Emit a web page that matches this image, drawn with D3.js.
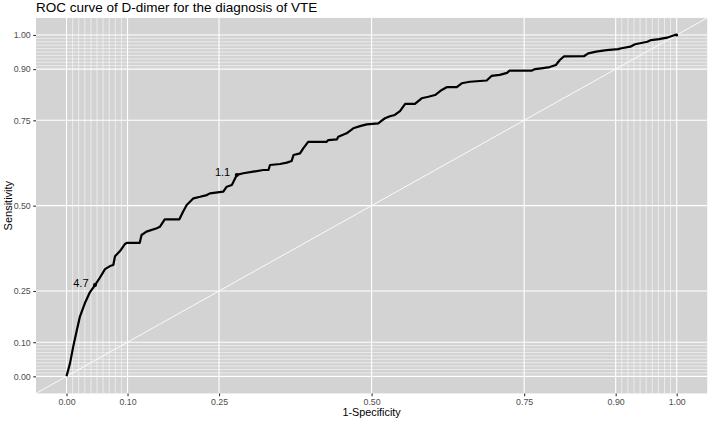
<!DOCTYPE html>
<html><head><meta charset="utf-8">
<script src="https://cdn.jsdelivr.net/npm/d3@7"></script>
<style>html,body{margin:0;padding:0;background:#fff;}svg{display:block;font-family:"Liberation Sans",Arial,sans-serif;}</style>
</head><body>
<script>
const title = "ROC curve of D-dimer for the diagnosis of VTE";
const xLabel = "1-Specificity";
const yLabel = "Sensitivity";
const majorBreaks = [0, 0.1, 0.25, 0.5, 0.75, 0.9, 1];
const tickLabels = ["0.00", "0.10", "0.25", "0.50", "0.75", "0.90", "1.00"];
const minorBreaks = [0.01,0.02,0.03,0.04,0.05,0.06,0.07,0.08,0.09,0.91,0.92,0.93,0.94,0.95,0.96,0.97,0.98,0.99];
const fpr = [0,0.0057,0.011,0.017,0.022,0.030,0.0385,0.0467,0.0549,0.0631,0.0713,0.0767,0.0795,0.0877,0.0959,0.0987,0.120,0.123,0.131,0.148,0.153,0.161,0.185,0.191,0.197,0.208,0.219,0.230,0.235,0.257,0.2625,0.271,0.279,0.2897,0.306,0.3225,0.331,0.3335,0.350,0.361,0.369,0.372,0.3827,0.388,0.396,0.4264,0.429,0.443,0.4454,0.459,0.470,0.481,0.492,0.511,0.5166,0.522,0.530,0.538,0.5465,0.555,0.571,0.582,0.593,0.604,0.615,0.623,0.6395,0.6477,0.661,0.6886,0.6965,0.710,0.722,0.726,0.762,0.768,0.778,0.792,0.802,0.8085,0.815,0.848,0.855,0.868,0.885,0.904,0.9095,0.924,0.9317,0.940,0.952,0.958,0.971,0.984,0.997,1];
const tpr = [0,0.038,0.087,0.136,0.175,0.214,0.247,0.2675,0.2895,0.314,0.323,0.326,0.352,0.367,0.3877,0.391,0.391,0.414,0.424,0.434,0.438,0.460,0.460,0.482,0.502,0.5215,0.526,0.531,0.536,0.541,0.5555,0.5605,0.590,0.5948,0.5995,0.6045,0.6045,0.619,0.622,0.626,0.631,0.6485,0.653,0.668,0.687,0.687,0.692,0.694,0.702,0.712,0.7266,0.733,0.738,0.741,0.749,0.756,0.762,0.7656,0.777,0.798,0.798,0.8145,0.819,0.824,0.839,0.847,0.847,0.8585,0.863,0.8667,0.880,0.883,0.889,0.8954,0.8954,0.900,0.9024,0.906,0.912,0.9267,0.937,0.9376,0.946,0.951,0.9555,0.9587,0.961,0.9657,0.9727,0.9757,0.980,0.985,0.9877,0.992,1.0,1];
const cutLabels = ["4.7", "1.1"];
const cutFpr = [0.0467, 0.279];
const cutTpr = [0.2675, 0.590];

const W = 708, H = 421;
const panel = {l: 36, r: 707.2, t: 17.9, b: 393.4};
const x = d3.scaleLinear().domain([-0.05, 1.05]).range([panel.l, panel.r]);
const y = d3.scaleLinear().domain([-0.05, 1.05]).range([panel.b, panel.t]);

const svg = d3.select("body").append("svg").attr("width", W).attr("height", H);
svg.append("rect").attr("x", panel.l).attr("y", panel.t)
  .attr("width", panel.r - panel.l).attr("height", panel.b - panel.t).attr("fill", "#D3D3D3");

const grid = svg.append("g");
minorBreaks.forEach(v => {
  grid.append("line").attr("x1", x(v)).attr("x2", x(v)).attr("y1", panel.t).attr("y2", panel.b)
    .attr("stroke", "#fff").attr("stroke-width", 0.55);
  grid.append("line").attr("y1", y(v)).attr("y2", y(v)).attr("x1", panel.l).attr("x2", panel.r)
    .attr("stroke", "#fff").attr("stroke-width", 0.55);
});
majorBreaks.forEach(v => {
  grid.append("line").attr("x1", x(v)).attr("x2", x(v)).attr("y1", panel.t).attr("y2", panel.b)
    .attr("stroke", "#fff").attr("stroke-width", 1.1);
  grid.append("line").attr("y1", y(v)).attr("y2", y(v)).attr("x1", panel.l).attr("x2", panel.r)
    .attr("stroke", "#fff").attr("stroke-width", 1.1);
});

// diagonal reference
svg.append("line").attr("x1", x(-0.05)).attr("y1", y(-0.05)).attr("x2", x(1.05)).attr("y2", y(1.05))
  .attr("stroke", "#fff").attr("stroke-width", 0.9);

// ROC curve
const pts = fpr.map((f, i) => [f, tpr[i]]);
svg.append("path").datum(pts)
  .attr("d", d3.line().x(d => x(d[0])).y(d => y(d[1])))
  .attr("fill", "none").attr("stroke", "#000").attr("stroke-width", 2.2).attr("stroke-linejoin", "round");

// cutoff points and labels
cutLabels.forEach((lab, i) => {
  svg.append("circle").attr("cx", x(cutFpr[i])).attr("cy", y(cutTpr[i])).attr("r", 2).attr("fill", "#000");
  svg.append("text").attr("x", x(cutFpr[i]) - 6.5).attr("y", y(cutTpr[i]) + 1.5)
    .attr("text-anchor", "end").attr("font-size", 11).attr("fill", "#000").text(lab);
});
svg.append("circle").attr("cx", x(1)).attr("cy", y(1)).attr("r", 1.5).attr("fill", "#000");

// axes
const xAxis = d3.axisBottom(x).tickValues(majorBreaks).tickFormat((d, i) => tickLabels[i]).tickSize(2.75).tickPadding(2.3);
const gx = svg.append("g").attr("transform", `translate(0,${panel.b})`).call(xAxis);
const yAxis = d3.axisLeft(y).tickValues(majorBreaks).tickFormat((d, i) => tickLabels[i]).tickSize(2.75).tickPadding(2.5);
const gy = svg.append("g").attr("transform", `translate(${panel.l},0)`).call(yAxis);
[gx, gy].forEach(g => {
  g.select(".domain").remove();
  g.selectAll(".tick line").attr("stroke", "#333").attr("stroke-width", 1.1);
  g.selectAll(".tick text").attr("fill", "#4D4D4D").attr("font-size", 8.8)
    .attr("font-family", '"Liberation Sans",Arial,sans-serif');
});

svg.append("text").attr("x", (panel.l + panel.r) / 2).attr("y", 415.5).attr("text-anchor", "middle")
  .attr("font-size", 10.8).attr("fill", "#000").text(xLabel);
svg.append("text").attr("transform", `translate(11.5,${(panel.t + panel.b) / 2}) rotate(-90)`)
  .attr("text-anchor", "middle").attr("font-size", 11).attr("fill", "#000").text(yLabel);
svg.append("text").attr("x", panel.l).attr("y", 12).attr("font-size", 13.5).attr("fill", "#000").text(title);
</script>
</body></html>
